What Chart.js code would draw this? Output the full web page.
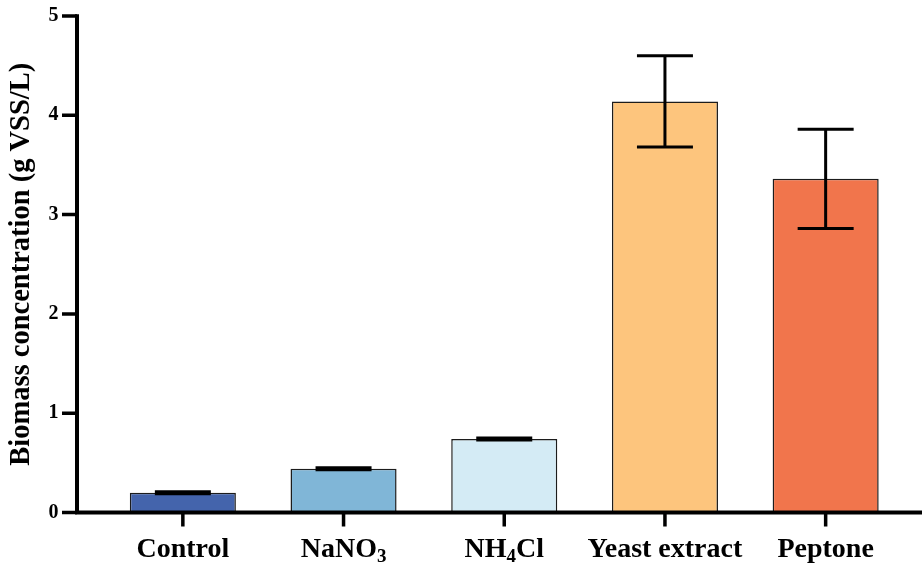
<!DOCTYPE html>
<html>
<head>
<meta charset="utf-8">
<script src="https://cdn.jsdelivr.net/npm/chart.js@4.4.1/dist/chart.umd.min.js"></script>
<style>
  html, body { margin: 0; padding: 0; background: #fff; }
  #c { display: block; }
</style>
</head>
<body>
<canvas id="c" width="922" height="567"></canvas>
<script>
// Biomass produced with each nitrogen source (mean and standard deviation)
const categories = ['Control', 'NaNO₃', 'NH₄Cl', 'Yeast extract', 'Peptone'];
const biomass = [0.20, 0.44, 0.74, 4.14, 3.36];
const biomassSD = [0.01, 0.01, 0.01, 0.46, 0.50];
const barColors = ['#4464AC', '#80B6D7', '#D4EBF5', '#FDC57D', '#F1754C'];
const yTicks = [0, 1, 2, 3, 4, 5];
const yTitle = 'Biomass concentration (g VSS/L)';

const SERIF = '"Liberation Serif", "Times New Roman", serif';
const SUB_DIGITS = '₀₁₂₃₄₅₆₇₈₉';

// Draws a category name, rendering Unicode subscript digits as smaller lowered digits
function drawChemLabel(ctx, text, cx, baseline) {
  const runs = [];
  for (const ch of text) {
    const k = SUB_DIGITS.indexOf(ch);
    const sub = k >= 0;
    const c = sub ? String(k) : ch;
    if (runs.length && runs[runs.length - 1].sub === sub) runs[runs.length - 1].t += c;
    else runs.push({ t: c, sub });
  }
  const mainFont = 'bold 28px ' + SERIF;
  const subFont = 'bold 19px ' + SERIF;
  let total = 0;
  runs.forEach(r => {
    ctx.font = r.sub ? subFont : mainFont;
    r.w = ctx.measureText(r.t).width;
    total += r.w;
  });
  let x = cx - total / 2;
  ctx.textAlign = 'left';
  ctx.textBaseline = 'alphabetic';
  runs.forEach(r => {
    ctx.font = r.sub ? subFont : mainFont;
    ctx.fillText(r.t, x, baseline + (r.sub ? 5 : 0));
    x += r.w;
  });
}

// Error bars, axis lines, tick marks and category labels
const framePlugin = {
  id: 'frame',
  afterDatasetsDraw(chart) {
    const { ctx, chartArea, scales: { y } } = chart;
    const meta = chart.getDatasetMeta(0);
    ctx.save();
    ctx.strokeStyle = '#000';
    ctx.fillStyle = '#000';

    // error bars
    ctx.lineWidth = 3;
    ctx.lineCap = 'butt';
    meta.data.forEach((bar, i) => {
      const cx = bar.x;
      const hi = y.getPixelForValue(biomass[i] + biomassSD[i]);
      const lo = y.getPixelForValue(biomass[i] - biomassSD[i]);
      ctx.beginPath();
      ctx.moveTo(cx, hi); ctx.lineTo(cx, lo);
      ctx.moveTo(cx - 28, hi); ctx.lineTo(cx + 28, hi);
      ctx.moveTo(cx - 28, lo); ctx.lineTo(cx + 28, lo);
      ctx.stroke();
    });

    // axis lines
    const ax = chartArea.left - 25.5;
    const y0 = y.getPixelForValue(0);
    const yTop = y.getPixelForValue(yTicks[yTicks.length - 1]);
    ctx.lineWidth = 4;
    ctx.beginPath();
    ctx.moveTo(ax, yTop - 1.75); ctx.lineTo(ax, y0 + 2);
    ctx.moveTo(ax - 2, y0); ctx.lineTo(chart.width, y0);
    ctx.stroke();

    // tick marks
    ctx.lineWidth = 3.5;
    ctx.beginPath();
    yTicks.forEach(v => {
      const py = y.getPixelForValue(v);
      ctx.moveTo(ax - 15, py); ctx.lineTo(ax, py);
    });
    meta.data.forEach(bar => {
      ctx.moveTo(bar.x, y0); ctx.lineTo(bar.x, y0 + 14);
    });
    ctx.stroke();

    // category labels
    meta.data.forEach((bar, i) => drawChemLabel(ctx, categories[i], bar.x, 557));
    ctx.restore();
  }
};

new Chart(document.getElementById('c'), {
  type: 'bar',
  data: {
    labels: categories,
    datasets: [{
      data: biomass,
      backgroundColor: barColors,
      borderColor: '#1c1c1c',
      borderWidth: 1.5,
      categoryPercentage: 1,
      barPercentage: 0.66
    }]
  },
  options: {
    responsive: false,
    devicePixelRatio: 1,
    animation: false,
    layout: { padding: { top: 16, right: 16, left: 0, bottom: 0 } },
    plugins: { legend: { display: false }, tooltip: { enabled: false } },
    scales: {
      x: {
        grid: { display: false, drawTicks: false },
        border: { display: false },
        ticks: { display: false },
        afterFit(s) { s.height = 54.5; }
      },
      y: {
        min: 0,
        max: 5,
        afterBuildTicks(s) { s.ticks = yTicks.map(v => ({ value: v })); },
        grid: { display: false, drawTicks: false },
        border: { display: false },
        ticks: {
          padding: 44,
          color: '#000',
          font: { family: SERIF, size: 20, weight: 'bold' }
        },
        title: {
          display: true,
          text: yTitle,
          color: '#000',
          font: { family: SERIF, size: 28.5, weight: 'bold' },
          padding: { top: 5, bottom: 0 }
        },
        afterFit(s) {
          s.width = 102.5;
          s.paddingTop = 10;
          s.paddingBottom = 10;
        }
      }
    }
  },
  plugins: [framePlugin]
});
</script>
</body>
</html>
